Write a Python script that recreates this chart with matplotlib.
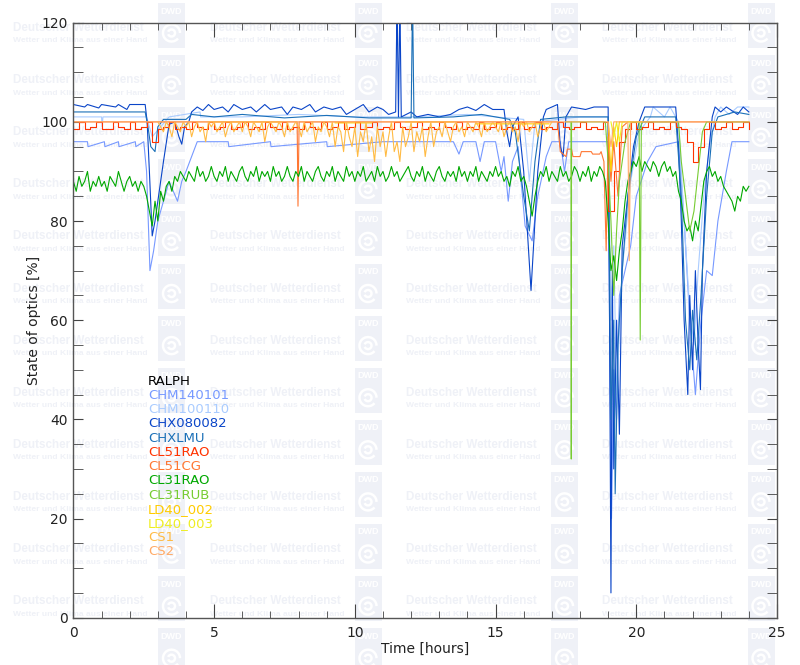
import numpy as np
import matplotlib.pyplot as plt
from matplotlib.patches import Rectangle, Arc

# ---- data (time in hours, state of optics in %) ----
names = ['RALPH', 'CHM140101', 'CHM100110', 'CHX080082', 'CHXLMU', 'CL51RAO', 'CL51CG',
         'CL31RAO', 'CL31RUB', 'LD40_002', 'LD40_003', 'CS1', 'CS2']
colors = ['#000000', '#7799ff', '#aaccff', '#0a45c8', '#1b70b8', '#ff3300', '#ff7733',
          '#00a800', '#77cc33', '#ffcc00', '#eeee22', '#ffbb44', '#ffaa66']

chm140_pts = [(0, 96), (0.5, 96), (0.52, 95), (1.1, 96), (1.12, 95), (1.6, 96), (1.62, 95), (2.2, 96),
              (2.22, 95), (2.5, 96), (2.6, 90), (2.72, 70), (2.85, 74), (3.0, 80), (3.2, 84), (3.4, 88),
              (3.55, 86), (3.7, 84), (3.85, 88), (4.0, 90), (4.2, 93), (4.4, 96), (5.5, 96), (5.52, 95),
              (7.0, 96), (7.02, 95), (9.0, 96), (9.02, 95), (11.0, 96), (12.5, 96), (13.5, 96),
              (13.7, 93.5), (13.85, 96), (14.3, 96), (14.45, 92), (14.6, 96), (15.0, 96), (15.2, 90),
              (15.3, 93), (15.45, 84), (15.6, 92), (15.8, 95), (16.05, 79), (16.3, 76), (16.5, 85),
              (16.8, 93), (17.0, 96), (17.3, 96), (17.45, 90), (17.6, 96), (18.0, 96), (19.0, 96),
              (19.05, 60), (19.12, 20), (19.2, 50), (19.3, 40), (19.4, 65), (19.6, 70), (19.8, 75),
              (20.0, 85), (20.4, 92), (20.7, 95), (21.5, 96), (21.7, 80), (21.9, 60), (22.1, 45),
              (22.3, 60), (22.5, 70), (22.7, 69), (22.9, 80), (23.2, 90), (23.4, 96), (24.0, 96)]

chm100_pts = [(0, 101), (1.0, 101), (1.02, 99), (1.05, 101), (2.6, 101), (2.8, 97), (3.1, 99), (3.4, 101),
              (4.5, 102), (4.52, 101), (6, 101), (8, 101.5), (10, 101), (12, 101), (14, 101.5), (16, 100.5),
              (16.2, 88), (16.4, 100), (18, 101), (19.0, 101), (19.1, 60), (19.2, 75), (19.3, 45),
              (19.5, 70), (19.8, 88), (20.1, 98), (20.5, 101), (20.6, 103), (21.0, 101), (21.2, 103),
              (21.5, 100), (21.7, 80), (21.9, 62), (22.05, 55), (22.2, 70), (22.4, 85), (22.6, 95),
              (22.8, 101), (23.0, 103), (23.3, 101.5), (23.6, 103), (24.0, 103)]

chx_pts = [(0, 103.5), (0.4, 103), (0.5, 103.5), (0.9, 102.8), (1.0, 103.5), (1.5, 103), (1.6, 103.5),
           (1.9, 102.5), (2.0, 103.5), (2.55, 103.5), (2.62, 100), (2.7, 90), (2.8, 77), (2.9, 80),
           (3.0, 84), (3.2, 92), (3.4, 99.5), (3.6, 100), (3.75, 97), (3.85, 95.5), (3.95, 99), (4.1, 100),
           (4.2, 102), (4.4, 103), (4.6, 102.3), (4.8, 103.5), (5.0, 102.5), (5.3, 103), (5.5, 102),
           (5.7, 103.5), (6.0, 102.5), (6.3, 103), (6.5, 102), (6.8, 103.5), (7.0, 102.5), (7.4, 103),
           (7.6, 101.5), (7.8, 103), (8.1, 102.5), (8.4, 103.5), (8.6, 102), (8.9, 103), (9.2, 102.5),
           (9.5, 103), (9.7, 101.5), (10.0, 102.5), (10.3, 103.5), (10.5, 102), (10.8, 103), (11.0, 102.5),
           (11.2, 101.5), (11.45, 102), (11.5, 125), (11.55, 101), (11.6, 125), (11.65, 101), (12.0, 102),
           (12.2, 101), (12.6, 101.5), (13.0, 101), (13.4, 101.5), (13.7, 102.5), (14.0, 103), (14.3, 102.3),
           (14.6, 103.5), (14.9, 102.5), (15.3, 102.5), (15.4, 98), (15.5, 95), (15.6, 99), (15.8, 101),
           (16.0, 90), (16.26, 66), (16.5, 90), (16.7, 101), (16.8, 102.5), (17.2, 103.5), (17.3, 95),
           (17.4, 93), (17.5, 101), (17.7, 103), (18.2, 102.5), (18.5, 103), (19.0, 103), (19.05, 60),
           (19.1, 5), (19.15, 70), (19.2, 30), (19.3, 60), (19.4, 37), (19.5, 75), (19.7, 85), (19.9, 95),
           (20.1, 100), (20.3, 103), (21.4, 103), (21.5, 95), (21.6, 80), (21.7, 60), (21.83, 45), (21.9, 65),
           (22.0, 50), (22.1, 70), (22.2, 55), (22.28, 46), (22.35, 70), (22.5, 90), (22.7, 101), (22.8, 103),
           (23.0, 102), (23.2, 103), (23.6, 101.5), (23.8, 103), (24.0, 102)]

chxlmu_pts = [(0, 102), (2.55, 102), (2.65, 99), (2.75, 95), (2.9, 94), (3.0, 99), (3.2, 100.5), (4.0, 100.5),
              (4.2, 101.5), (5.0, 101), (6.0, 101.5), (7.5, 100.8), (9.0, 101.3), (10.5, 100.8), (12.0, 100.8),
              (12.05, 125), (12.1, 100.8), (13.5, 101), (14.5, 101.5), (15.5, 100.5), (15.7, 98), (16.0, 85),
              (16.2, 78), (16.4, 92), (16.6, 100.5), (17.5, 101), (18.5, 101), (19.0, 101), (19.05, 70),
              (19.1, 40), (19.2, 60), (19.25, 25), (19.35, 55), (19.5, 70), (19.7, 85), (20.0, 97), (20.3, 101),
              (21.4, 101), (21.6, 85), (21.75, 60), (21.9, 50), (22.0, 62), (22.15, 52), (22.3, 65), (22.5, 85),
              (22.7, 98), (22.9, 101), (23.5, 102), (24.0, 101.5)]

# CL51RAO every 0.2 h from 0 to 24
cl51rao_v = [98.5, 100, 98.5, 99, 100, 98.5, 98.5, 100, 99, 98.5,
             100, 98.5, 99, 100, 96, 98.5, 99, 100, 98.5, 99,
             98.5, 100, 99, 98.5, 100, 98.5, 99, 100, 98.5, 99,
             100, 98.5, 99, 98.5, 100, 99, 98.5, 100, 98.5, 99,
             98.5, 100, 99, 98.5, 100, 98.5, 99, 100, 98.5, 99,
             100, 98.5, 99, 100, 98.5, 99, 98.5, 100, 99, 98.5,
             99, 100, 98.5, 99, 98.5, 100, 99, 98.5, 100, 98.5,
             99, 98.5, 100, 98.5, 99, 100, 98.5, 99, 98.5, 100,
             98.5, 99, 100, 98.5, 99, 98.5, 100, 99, 98.5, 99,
             100, 98.5, 99, 98.5, 100, 82, 90, 96, 98.5, 100,
             98.5, 99, 100, 98.5, 99, 98.5, 100, 99, 98.5, 96,
             92, 95, 98.5, 100, 98.5, 99, 100, 98.5, 99, 100,
             98.5]

cl51cg_pts = [(0, 100), (7.95, 100), (7.98, 83), (8.02, 100), (17.2, 100), (17.25, 97), (17.3, 94), (17.5, 93),
              (17.55, 94.5), (17.7, 94.5), (17.75, 93), (18.0, 93), (18.05, 94), (18.4, 94), (18.45, 93.5),
              (18.7, 93.5), (18.75, 94), (18.85, 92), (18.93, 74), (19.0, 97), (19.1, 88), (19.2, 96),
              (19.35, 85), (19.5, 99), (19.7, 100), (24.0, 100)]

# CL31RAO every 0.1 h from 0 to 24
cl31rao_v = [88, 86, 89, 87, 88, 90, 86, 88, 87, 89,
             87, 88, 86, 89, 88, 87, 90, 88, 86, 88,
             89, 87, 88, 86, 88, 87, 85, 82, 79, 84,
             80, 86, 84, 87, 88, 86, 89, 88, 90, 89,
             88, 90, 89, 88, 91, 89, 90, 88, 89, 91,
             89, 88, 90, 89, 91, 88, 90, 89, 88, 90,
             91, 89, 88, 90, 89, 91, 88, 90, 89, 90,
             88, 91, 89, 90, 88, 89, 91, 89, 88, 90,
             89, 91, 88, 90, 89, 88, 90, 91, 89, 88,
             90, 89, 91, 88, 90, 89, 88, 91, 89, 90,
             88, 90, 89, 91, 88, 89, 90, 88, 91, 89,
             90, 88, 89, 91, 89, 90, 88, 89, 90, 91,
             89, 88, 90, 89, 91, 88, 90, 89, 88, 90,
             91, 89, 88, 90, 89, 90, 88, 91, 89, 90,
             88, 90, 89, 91, 88, 90, 89, 88, 90, 89,
             91, 89, 90, 88, 89, 87, 90, 89, 91, 88,
             89, 87, 84, 81, 85, 88, 90, 89, 91, 88,
             90, 89, 88, 91, 89, 90, 88, 89, 91, 90,
             88, 90, 89, 91, 88, 90, 89, 91, 90, 88,
             80, 70, 73, 68, 74, 78, 84, 88, 90, 92,
             91, 93, 90, 92, 91, 90, 92, 91, 89, 91,
             92, 90, 91, 89, 90, 86, 84, 80, 78, 79,
             76, 80, 78, 83, 88, 90, 91, 89, 90, 88,
             89, 87, 86, 85, 84, 82, 85, 84, 87, 86,
             87]

cl31rub_pts = [(17.5, 100), (17.68, 100), (17.69, 32), (17.7, 100), (18.9, 100), (19.0, 92), (19.1, 80),
               (19.2, 65), (19.3, 78), (19.4, 88), (19.6, 96), (19.8, 100), (20.1, 100), (20.14, 56),
               (20.18, 100), (21.5, 100), (21.6, 92), (21.75, 85), (21.9, 78), (22.05, 82), (22.2, 90),
               (22.35, 98), (22.5, 100), (24.0, 100)]

ld40_002_pts = [(4.8, 100), (7.4, 100), (7.4, np.nan), (9.3, 99.8), (10.6, 99.8), (10.6, np.nan),
                (11.8, 100), (13.5, 100), (13.5, np.nan), (14.3, 99.6), (16.9, 99.6), (16.9, np.nan),
                (19.0, 100), (19.1, 90), (19.2, 99), (19.3, 95), (19.4, 100), (19.6, 100)]

ld40_003_pts = [(19.1, 100), (19.2, 97), (19.3, 100), (19.4, 96), (19.5, 100), (20.2, 100)]

# CS1 every 0.1 h from 3 to 17
cs1_v = [100, 99, 98, 100, 99, 97, 100, 99, 98, 100,
         99, 100, 97, 99, 100, 98, 99, 96, 100, 99,
         100, 98, 99, 100, 97, 99, 100, 98, 99, 100,
         98, 100, 99, 97, 100, 99, 98, 100, 96, 99,
         100, 99, 98, 100, 99, 97, 100, 98, 99, 100,
         99, 97, 100, 98, 99, 100, 96, 99, 98, 100,
         99, 97, 100, 95, 99, 98, 94, 100, 97, 95,
         99, 93, 98, 96, 100, 94, 97, 92, 99, 95,
         98, 93, 97, 100, 94, 96, 92, 99, 95, 97,
         100, 94, 98, 96, 99, 93, 97, 100, 95, 98,
         99, 97, 100, 98, 96, 99, 100, 98, 99, 97,
         100, 99, 98, 100, 99, 97, 100, 98, 99, 100,
         99, 98, 100, 97, 99, 100, 98, 99, 96, 100,
         99, 100, 98, 99, 100, 97, 99, 100, 98, 99,
         100]

cs2_pts = [(0, 100), (19.0, 100), (19.1, 95), (19.2, 100), (19.7, 100), (19.75, 72), (19.8, 100), (24.0, 100)]

# ---- figure ----
W, H = 800, 665
fig = plt.figure(figsize=(W / 100, H / 100), dpi=100)
wm = '#eff1f7'

# DWD watermark tiles, in a pixel-coordinate background axes
bg = fig.add_axes([0, 0, 1, 1], zorder=-1)
bg.set_xlim(0, W)
bg.set_ylim(H, 0)
bg.axis('off')
for col in range(4):
    for row in range(13):
        x0 = 13 + 196.5 * col
        y0 = 28 + 52.1 * row
        lx = 158 + 196.5 * col
        ly = 3 + 52.1 * row
        bg.add_patch(Rectangle((lx, ly), 27, 45, facecolor=wm, edgecolor='none'))
        bg.text(lx + 13.5, ly + 8, 'DWD', color='white', fontsize=6.5, fontweight='bold',
                family='Liberation Sans', ha='center', va='center', clip_on=True)
        bg.add_patch(Arc((lx + 13.5, ly + 30), 17, 17, theta1=40, theta2=360, color='white', lw=1.8))
        bg.add_patch(Arc((lx + 13.5, ly + 30), 7, 7, theta1=200, theta2=520, color='white', lw=1.8))
        if y0 + 14 < H:
            bg.text(x0, y0, 'Deutscher Wetterdienst', color=wm, fontsize=8.4, fontweight='bold',
                    family='Liberation Sans', va='center', ha='left', clip_on=True)
            bg.text(x0, y0 + 13, 'Wetter und Klima aus einer Hand', color=wm, fontsize=6.1,
                    fontweight='bold', family='Liberation Sans', va='center', ha='left', clip_on=True)

ax = fig.add_axes([73.4 / W, 1 - 617.7 / H, (777 - 73.4) / W, (617.7 - 22.7) / H], zorder=1)
ax.patch.set_alpha(0)

t10 = np.round(np.arange(0, 24.01, 0.1), 2)
t20 = np.round(np.arange(0, 24.01, 0.2), 2)
t_cs1 = np.round(np.arange(3.0, 17.01, 0.1), 2)


def pts(p):
    a = np.array(p, dtype=float)
    return a[:, 0], a[:, 1]


lw = 0.8
ax.plot(*pts(chm140_pts), color=colors[1], lw=lw)
ax.plot(*pts(chm100_pts), color=colors[2], lw=lw)
ax.plot(*pts(chx_pts), color=colors[3], lw=lw)
ax.plot(*pts(chxlmu_pts), color=colors[4], lw=lw)
ax.plot(t20, cl51rao_v, color=colors[5], lw=lw, drawstyle='steps-post')
ax.plot(*pts(cl51cg_pts), color=colors[6], lw=lw)
ax.plot(t10, cl31rao_v, color=colors[7], lw=lw)
ax.plot(*pts(cl31rub_pts), color=colors[8], lw=lw)
ax.plot(*pts(ld40_002_pts), color=colors[9], lw=lw)
ax.plot(*pts(ld40_003_pts), color=colors[10], lw=lw)
ax.plot(t_cs1, cs1_v, color=colors[11], lw=lw)
ax.plot(*pts(cs2_pts), color=colors[12], lw=lw)

ax.set_xlim(0, 25)
ax.set_ylim(0, 120)
ax.set_xticks(np.arange(0, 26, 5))
ax.set_xticks(np.arange(0, 26, 1), minor=True)
ax.set_yticks(np.arange(0, 121, 20))
ax.set_yticks(np.arange(0, 121, 5), minor=True)
ax.tick_params(which='both', direction='in', top=True, right=True, colors='#444444', labelcolor='#222222',
               labelsize=10)
ax.tick_params(axis='x', which='major', length=10, pad=6)
ax.tick_params(axis='x', which='minor', length=5)
ax.tick_params(axis='y', which='both', length=7, pad=4)
for s in ax.spines.values():
    s.set_color('#555555')
    s.set_linewidth(1.0)
ax.set_xlabel('Time [hours]', fontsize=10, color='#222222', labelpad=1)
ax.set_ylabel('State of optics [%]', fontsize=10, color='#222222', labelpad=0)

# station list in the plot
for i, (n, c) in enumerate(zip(names, colors)):
    ax.text(2.65, 47.7 - i * 2.87, n, color=c, fontsize=9.5, va='center', ha='left')

fig.savefig('out.png', dpi=100)
